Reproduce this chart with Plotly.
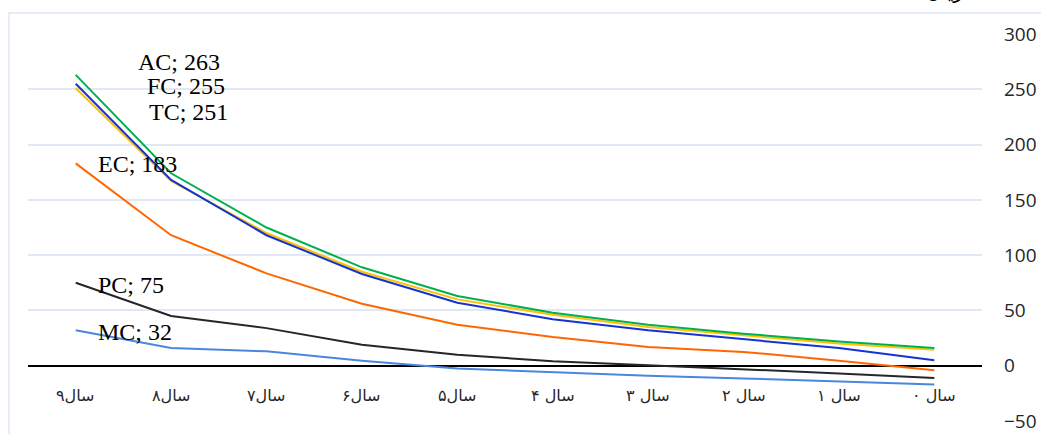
import plotly.graph_objects as go

# Year categories, oldest on the left
categories = ["سال۹", "سال۸", "سال۷", "سال۶", "سال۵", "سال ۴", "سال ۳", "سال ۲", "سال ۱", "سال ۰"]

# Cost series per year
AC = [263, 174, 125, 89, 63, 48, 37, 29, 22, 16]
FC = [255, 168, 118, 83, 57, 42, 32, 24, 16, 5]
TC = [251, 167, 120, 85, 60, 46, 35, 27.5, 20, 14.5]
EC = [183, 118, 83.5, 56, 37, 26, 17, 12.5, 4.5, -4]
PC = [75, 45, 34, 19, 10, 4, 0.5, -3, -7, -11]
MC = [32, 16, 13, 4.5, -2.5, -6, -9, -11.5, -14, -17]

y_ticks = [-50, 0, 50, 100, 150, 200, 250, 300]

series = [
    ("MC", MC, "#4A86DE", (20, -2)),
    ("PC", PC, "#262626", (20, -2)),
    ("EC", EC, "#FF6600", (20, -1)),
    ("TC", TC, "#FFC000", (71, -24)),
    ("FC", FC, "#1434D2", (69, -2)),
    ("AC", AC, "#00B050", (60, 13)),
]

fig = go.Figure()
for name, vals, color, _ in series:
    fig.add_trace(go.Scatter(
        x=categories, y=vals, mode="lines", name=name,
        line=dict(color=color, width=2), showlegend=False,
        hoverinfo="skip",
    ))

annotations = []
# Value labels at the first year of each series
for name, vals, color, (dx, dy) in series:
    annotations.append(dict(
        x=categories[0], y=vals[0], xref="x", yref="y",
        text=f"{name}; {vals[0]}", showarrow=False,
        xanchor="left", yanchor="middle", xshift=dx, yshift=dy,
        font=dict(family="Liberation Serif", size=24, color="#000000"),
    ))

# Category labels sit just under the zero line
for c in categories:
    annotations.append(dict(
        x=c, y=0, xref="x", yref="y", text=c, showarrow=False,
        xanchor="center", yanchor="middle", yshift=-30,
        font=dict(family="DejaVu Sans", size=16, color="#262626"),
    ))

# Unit title, mostly above the top edge
annotations.append(dict(
    x=0.940, y=1.11, xref="paper", yref="paper", text="ریال",
    showarrow=False, xanchor="left", yanchor="middle",
    font=dict(family="DejaVu Sans", size=20, color="#000000"),
))

fig.update_layout(
    width=1041, height=434,
    margin=dict(l=28, r=59, t=34, b=13, autoexpand=False),
    paper_bgcolor="white", plot_bgcolor="white",
    annotations=annotations,
    shapes=[dict(
        type="rect", xref="paper", yref="paper",
        x0=-0.0199, x1=1.2, y0=-0.2, y1=1.0543,
        line=dict(color="#DDE7F4", width=1.5), layer="below",
    )],
    xaxis=dict(
        type="category", range=[-0.5, 9.5], showticklabels=False,
        showgrid=False, zeroline=False, showline=False, ticks="",
        automargin=False,
    ),
    yaxis=dict(
        side="right", range=[-50, 300], tickvals=y_ticks,
        showgrid=True, gridcolor="#DFE8F4", gridwidth=1.5,
        zeroline=True, zerolinecolor="#000000", zerolinewidth=2,
        showline=False, ticks="", ticklabelstandoff=21, automargin=False,
        tickfont=dict(family="Open Sans", size=19, color="#262626"),
    ),
)

fig.write_html("out.html")
